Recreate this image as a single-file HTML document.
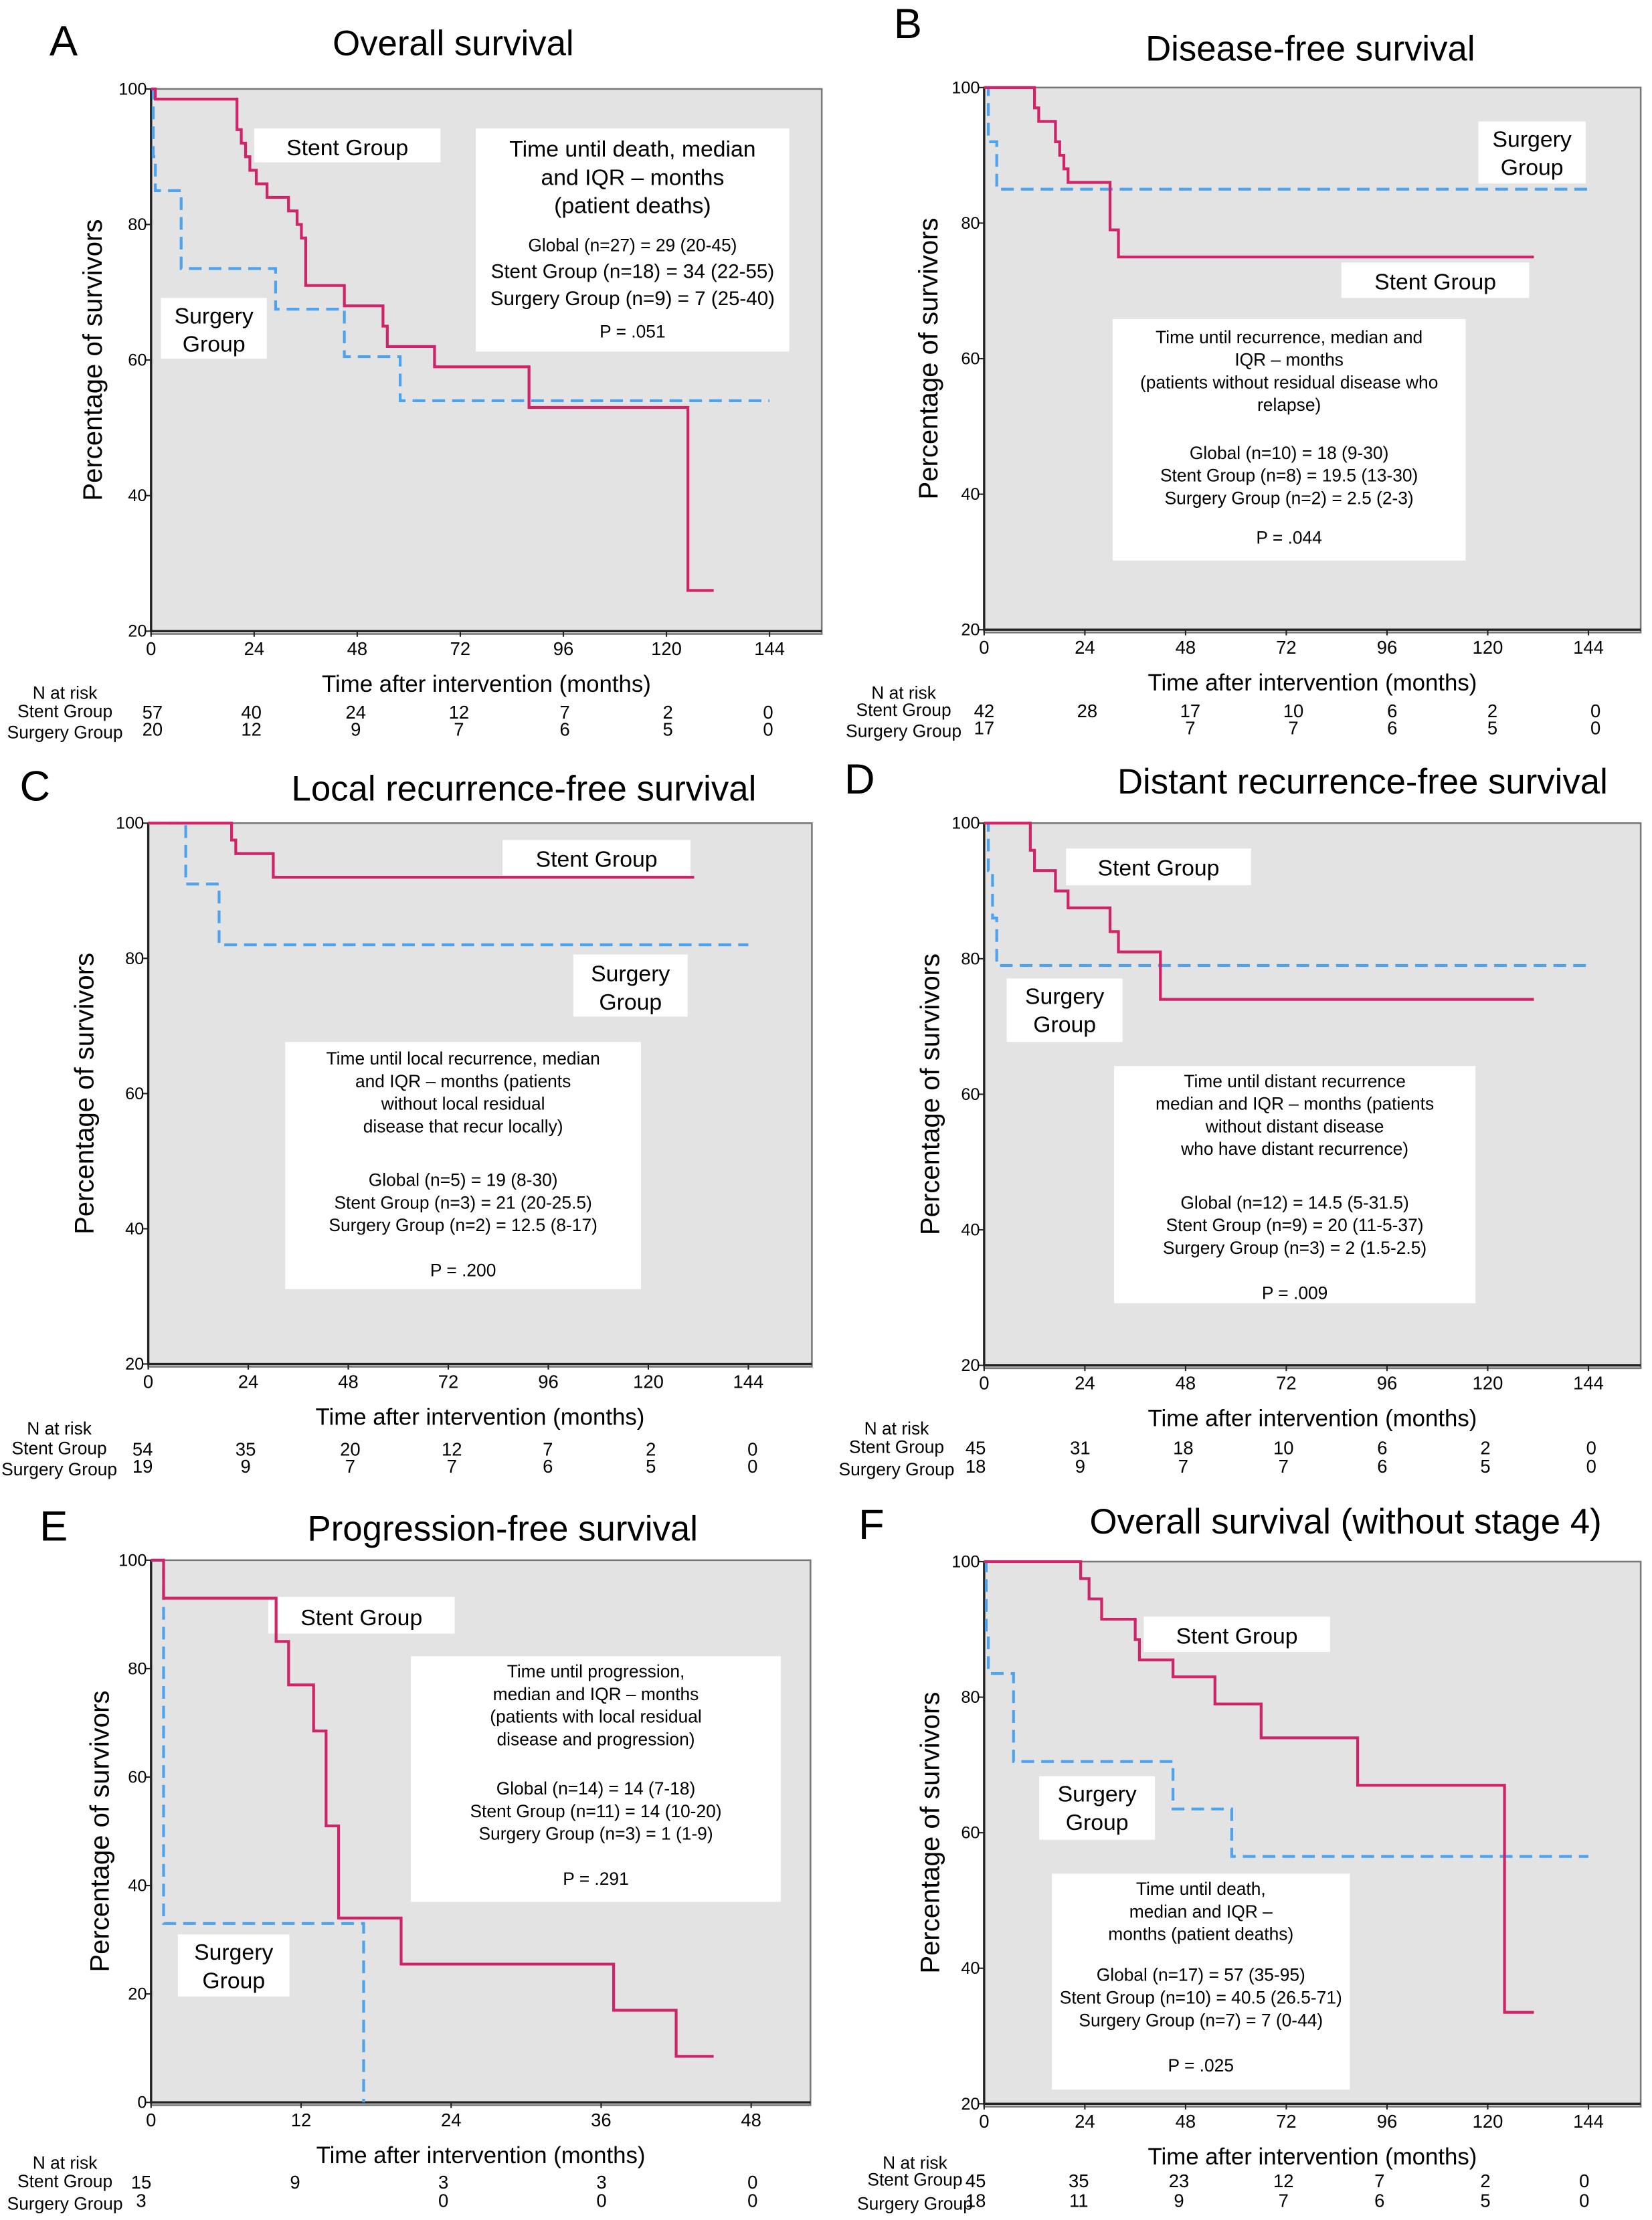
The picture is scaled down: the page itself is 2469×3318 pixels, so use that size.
<!DOCTYPE html>
<html><head><meta charset="utf-8">
<style>
html,body{margin:0;padding:0;background:#fff;}
svg{display:block;font-family:"Liberation Sans",Arial,sans-serif;}
</style></head>
<body>
<svg id="fig" width="2469" height="3318" viewBox="0 0 1170 1572.3" preserveAspectRatio="none" xmlns="http://www.w3.org/2000/svg"></svg>
<script>
// ---- Data: Panel A (Overall survival)
const aStentT=[0,1,20,21,22,23,24.5,27,32,34,35,36,45,54,55,66,88,125,131];
const aStentS=[100,98.5,94,92,90,88,86,84,82,80,78,71,68,65,62,59,53,26,26];
const aSurgT=[0,0.5,1,7,29,45,58,144];
const aSurgS=[100,90,85,73.5,67.5,60.5,54,54];
const aRiskStent=["57","40","24","12","7","2","0"];
const aRiskSurg=["20","12","9","7","6","5","0"];
// ---- Panel B (Disease-free survival)
const bStentT=[0,11,12,13,17,18,19,20,30,32,131];
const bStentS=[100,100,97,95,92,90,88,86,79,75,75];
const bSurgT=[0,1,3,144];
const bSurgS=[100,92,85,85];
const bRiskStent=["42","28","17","10","6","2","0"];
const bRiskSurg=["17","","7","7","6","5","0"];
// ---- Panel C (Local recurrence-free)
const cStentT=[0,19,20,21,30,131];
const cStentS=[100,100,97.5,95.5,92,92];
const cSurgT=[0,9,17,144];
const cSurgS=[100,91,82,82];
const cRiskStent=["54","35","20","12","7","2","0"];
const cRiskSurg=["19","9","7","7","6","5","0"];
// ---- Panel D (Distant recurrence-free)
const dStentT=[0,10,11,12,17,20,30,32,42,131];
const dStentS=[100,100,96,93,90,87.5,84,81,74,74];
const dSurgT=[0,1,2,3,144];
const dSurgS=[100,93,86,79,79];
const dRiskStent=["45","31","18","10","6","2","0"];
const dRiskSurg=["18","9","7","7","6","5","0"];
// ---- Panel E (Progression-free)
const eStentT=[0,1,9,10,11,13,14,15,20,37,42,45];
const eStentS=[100,93,93,85,77,68.5,51,34,25.5,17,8.5,8.5];
const eSurgT=[0,1,17,17];
const eSurgS=[100,33,33,0];
const eRiskStent=["15","9","3","3","0"];
const eRiskSurg=["3","","0","0","0"];
// ---- Panel F (Overall survival without stage 4)
const fStentT=[0,22,23,25,28,36,37,45,55,66,89,124,131];
const fStentS=[100,100,97.5,94.5,91.5,88.5,85.5,83,79,74,67,33.5,33.5];
const fSurgT=[0,0.5,1,7,45,59,144];
const fSurgS=[100,89,83.5,70.5,63.5,56.5,56.5];
const fRiskStent=["45","35","23","12","7","2","0"];
const fRiskSurg=["18","11","9","7","6","5","0"];

const NS="http://www.w3.org/2000/svg";
const svg=document.getElementById('fig');
function el(tag,attrs,parent,text){const e=document.createElementNS(NS,tag);for(const k in attrs)e.setAttribute(k,attrs[k]);if(text!==undefined)e.textContent=text;(parent||svg).appendChild(e);return e;}

function panel(p){
  const g=el('g',{},svg);
  
  
  const sx=t=>p.x0+(t-p.xmin)/(p.xmax-p.xmin)*(p.x1-p.x0);
  const sy=v=>p.yTop+(p.ymax-v)/(p.ymax-p.ymin)*(p.yBot-p.yTop);
  const bg=el('rect',{x:p.x0,y:p.yTop,width:p.boxR-p.x0,height:p.yBot-p.yTop+2,fill:'#e3e3e3',stroke:'#777','stroke-width':1.2},g);
  
  
  const ax=el('path',{d:`M${p.x0},${p.yTop}V${p.yBot}H${p.boxR}`,stroke:'#222','stroke-width':1.6,fill:'none'},g);
  
  
  const lt=el('text',{x:p.letterX,y:p.letterY,'font-size':30},g,p.id);
  
  
  const tt=el('text',{x:p.titleX,y:p.titleY,'font-size':25,'text-anchor':'middle'},g,p.title);
  
  
  p.yTicks.forEach(v=>{
    const y=sy(v);
    el('line',{x1:p.x0-4,x2:p.x0,y1:y,y2:y,stroke:'#222','stroke-width':1},g);
    const t=el('text',{x:p.x0-3,y:y+4,'font-size':12,'text-anchor':'end'},g,String(v));
    
    
  });
  p.xTicks.forEach(v=>{
    const x=sx(v);
    el('line',{x1:x,x2:x,y1:p.yBot,y2:p.yBot+4,stroke:'#222','stroke-width':1},g);
    const t=el('text',{x:x,y:p.yBot+17,'font-size':13,'text-anchor':'middle'},g,String(v));
    
    
  });
  const yl=el('text',{x:0,y:0,'font-size':19,'text-anchor':'middle',transform:`translate(${p.yLabX},${(p.yTop+p.yBot)/2}) rotate(-90)`},g,'Percentage of survivors');
  
  
  const xl=el('text',{x:(p.x0+p.boxR)/2,y:p.yBot+43,'font-size':16.5,'text-anchor':'middle'},g,'Time after intervention (months)');
  
  
  p.boxes.forEach(b=>{
    const bg2=el('g',{},g);
    
    
    el('rect',{x:b.x,y:b.y,width:b.w,height:b.h,fill:'#fff'},bg2);
    b.lines.forEach((ln,i)=>{
      el('text',{x:b.x+b.w/2,y:b.y+b.ty+i*b.lh+(ln.dy||0),'font-size':ln.fs||b.fs,'text-anchor':'middle'},bg2,ln.t);
    });
  });
  function step(T,S,color,dash,name){
    let d=`M${sx(T[0])},${sy(S[0])}`;
    for(let i=1;i<T.length;i++){d+=`H${sx(T[i])}V${sy(S[i])}`;}
    const c=el('path',{d:d,stroke:color,'stroke-width':2,fill:'none','stroke-dasharray':dash||'none'},g);
    
    
  }
  step(p.surgT,p.surgS,'#4da3ee','9,5','surgery-group-curve');
  step(p.stentT,p.stentS,'#d0246a',null,'stent-group-curve');
  const rg=el('g',{'font-size':12.5},g);
  
  
  el('text',{x:p.risk.lx,y:p.risk.y0,'text-anchor':'middle'},rg,'N at risk');
  el('text',{x:p.risk.lx,y:p.risk.y1,'text-anchor':'middle'},rg,'Stent Group');
  el('text',{x:p.risk.lx,y:p.risk.y2+2,'text-anchor':'middle'},rg,'Surgery Group');
  p.riskStent.forEach((v,i)=>{el('text',{x:p.risk.xs[i],y:p.risk.y1+1,'text-anchor':'middle','font-size':13},rg,v);});
  p.riskSurg.forEach((v,i)=>{el('text',{x:p.risk.xs[i],y:p.risk.y2,'text-anchor':'middle','font-size':13},rg,v);});
}

const T144=[0,24,48,72,96,120,144], Y20=[20,40,60,80,100];
panel({id:'A',title:'Overall survival',letterX:35,letterY:39,titleX:321,titleY:39,
  x0:107,x1:545,xmin:0,xmax:144,boxR:582,yTop:63,yBot:447,ymin:20,ymax:100,yLabX:72,
  xTicks:T144,yTicks:Y20,stentT:aStentT,stentS:aStentS,surgT:aSurgT,surgS:aSurgS,
  riskStent:aRiskStent,riskSurg:aRiskSurg,
  risk:{lx:46,y0:495,y1:508,y2:521,xs:[108,178,252,325,400,473,544]},
  boxes:[
    {name:'stent-group-label',x:180,y:91,w:132,h:24,ty:19,lh:0,fs:16,lines:[{t:'Stent Group'}]},
    {name:'surgery-group-label',x:114,y:211,w:75,h:43,ty:18,lh:20,fs:16,lines:[{t:'Surgery'},{t:'Group'}]},
    {name:'stats-box',x:337,y:91,w:222,h:158,ty:20,lh:20,fs:16,lines:[{t:'Time until death, median'},{t:'and IQR – months'},{t:'(patient deaths)'},{t:'Global (n=27) = 29 (20-45)',fs:12.5,dy:7},{t:'Stent Group (n=18) = 34 (22-55)',fs:14,dy:6},{t:'Surgery Group  (n=9) = 7 (25-40)',fs:14,dy:5},{t:'P = .051',fs:12.5,dy:8}]}
  ]});
panel({id:'B',title:'Disease-free survival',letterX:633,letterY:27,titleX:928,titleY:43,
  x0:697,x1:1125,xmin:0,xmax:144,boxR:1162,yTop:62,yBot:446,ymin:20,ymax:100,yLabX:664,
  xTicks:T144,yTicks:Y20,stentT:bStentT,stentS:bStentS,surgT:bSurgT,surgS:bSurgS,
  riskStent:bRiskStent,riskSurg:bRiskSurg,
  risk:{lx:640,y0:495,y1:507,y2:520,xs:[697,770,843,916,986,1057,1130]},
  boxes:[
    {name:'surgery-group-label',x:1047,y:86,w:76,h:44,ty:18,lh:20,fs:16,lines:[{t:'Surgery'},{t:'Group'}]},
    {name:'stent-group-label',x:950,y:186,w:133,h:25,ty:19,lh:0,fs:16,lines:[{t:'Stent Group'}]},
    {name:'stats-box',x:788,y:226,w:250,h:171,ty:17,lh:16,fs:12.5,lines:[{t:'Time until recurrence, median and'},{t:'IQR – months'},{t:'(patients without residual disease who'},{t:'relapse)'},{t:'Global (n=10) = 18 (9-30)',dy:18},{t:'Stent Group   (n=8) = 19.5 (13-30)',dy:18},{t:'Surgery Group  (n=2) = 2.5 (2-3)',dy:18},{t:'P = .044',dy:30}]}
  ]});
panel({id:'C',title:'Local recurrence-free survival',letterX:14,letterY:567,titleX:371,titleY:567,
  x0:105,x1:530,xmin:0,xmax:144,boxR:575,yTop:583,yBot:966,ymin:20,ymax:100,yLabX:66,
  xTicks:T144,yTicks:Y20,stentT:cStentT,stentS:cStentS,surgT:cSurgT,surgS:cSurgS,
  riskStent:cRiskStent,riskSurg:cRiskSurg,
  risk:{lx:42,y0:1016,y1:1030,y2:1043,xs:[101,174,248,320,388,461,533]},
  boxes:[
    {name:'stent-group-label',x:356,y:595,w:133,h:25,ty:19,lh:0,fs:16,lines:[{t:'Stent Group'}]},
    {name:'surgery-group-label',x:406,y:676,w:81,h:44,ty:19,lh:20,fs:16,lines:[{t:'Surgery'},{t:'Group'}]},
    {name:'stats-box',x:202,y:738,w:252,h:175,ty:16,lh:16,fs:12.5,lines:[{t:'Time until local recurrence, median'},{t:'and IQR – months (patients'},{t:'without local residual'},{t:'disease that recur locally)'},{t:'Global (n=5) = 19 (8-30)',dy:22},{t:'Stent Group (n=3) = 21 (20-25.5)',dy:22},{t:'Surgery Group  (n=2) = 12.5 (8-17)',dy:22},{t:'P = .200',dy:38}]}
  ]});
panel({id:'D',title:'Distant recurrence-free survival',letterX:598,letterY:562,titleX:965,titleY:562,
  x0:697,x1:1125,xmin:0,xmax:144,boxR:1162,yTop:583,yBot:967,ymin:20,ymax:100,yLabX:665,
  xTicks:T144,yTicks:Y20,stentT:dStentT,stentS:dStentS,surgT:dSurgT,surgS:dSurgS,
  riskStent:dRiskStent,riskSurg:dRiskSurg,
  risk:{lx:635,y0:1016,y1:1029,y2:1043,xs:[691,765,838,909,979,1052,1127]},
  boxes:[
    {name:'stent-group-label',x:755,y:601,w:131,h:26,ty:19,lh:0,fs:16,lines:[{t:'Stent Group'}]},
    {name:'surgery-group-label',x:713,y:693,w:82,h:45,ty:18,lh:20,fs:16,lines:[{t:'Surgery'},{t:'Group'}]},
    {name:'stats-box',x:789,y:755,w:256,h:168,ty:15,lh:16,fs:12.5,lines:[{t:'Time until distant recurrence'},{t:'median and IQR – months (patients'},{t:'without distant disease'},{t:'who have distant recurrence)'},{t:'Global (n=12) = 14.5 (5-31.5)',dy:22},{t:'Stent Group (n=9) = 20 (11-5-37)',dy:22},{t:'Surgery Group  (n=3) = 2 (1.5-2.5)',dy:22},{t:'P = .009',dy:38}]}
  ]});
panel({id:'E',title:'Progression-free survival',letterX:28,letterY:1091,titleX:356,titleY:1091,
  x0:107,x1:532,xmin:0,xmax:48,boxR:574,yTop:1105,yBot:1489,ymin:0,ymax:100,yLabX:77,
  xTicks:[0,12,24,36,48],yTicks:[0,20,40,60,80,100],stentT:eStentT,stentS:eStentS,surgT:eSurgT,surgS:eSurgS,
  riskStent:eRiskStent,riskSurg:eRiskSurg,
  risk:{lx:46,y0:1536,y1:1549,y2:1563,xs:[100,209,314,426,533]},
  boxes:[
    {name:'stent-group-label',x:190,y:1131,w:132,h:26,ty:20,lh:0,fs:16,lines:[{t:'Stent Group'}]},
    {name:'surgery-group-label',x:126,y:1370,w:79,h:44,ty:18,lh:20,fs:16,lines:[{t:'Surgery'},{t:'Group'}]},
    {name:'stats-box',x:291,y:1173,w:262,h:174,ty:15,lh:16,fs:12.5,lines:[{t:'Time until progression,'},{t:'median and IQR – months'},{t:'(patients with local residual'},{t:'disease and progression)'},{t:'Global (n=14) = 14 (7-18)',dy:19},{t:'Stent Group (n=11) = 14 (10-20)',dy:19},{t:'Surgery Group  (n=3) = 1 (1-9)',dy:19},{t:'P = .291',dy:35}]}
  ]});
panel({id:'F',title:'Overall survival (without stage 4)',letterX:608,letterY:1090,titleX:953,titleY:1086,
  x0:697,x1:1125,xmin:0,xmax:144,boxR:1162,yTop:1106,yBot:1490,ymin:20,ymax:100,yLabX:665,
  xTicks:T144,yTicks:Y20,stentT:fStentT,stentS:fStentS,surgT:fSurgT,surgS:fSurgS,
  riskStent:fRiskStent,riskSurg:fRiskSurg,
  risk:{lx:648,y0:1536,y1:1548,y2:1563,xs:[691,764,835,909,977,1052,1122]},
  boxes:[
    {name:'stent-group-label',x:810,y:1145,w:132,h:25,ty:19,lh:0,fs:16,lines:[{t:'Stent Group'}]},
    {name:'surgery-group-label',x:736,y:1258,w:82,h:45,ty:18,lh:20,fs:16,lines:[{t:'Surgery'},{t:'Group'}]},
    {name:'stats-box',x:745,y:1327,w:211,h:153,ty:15,lh:16,fs:12.5,lines:[{t:'Time until death,'},{t:'median and IQR –'},{t:'months (patient deaths)'},{t:'Global (n=17) = 57 (35-95)',dy:13},{t:'Stent Group (n=10) = 40.5 (26.5-71)',dy:13},{t:'Surgery Group  (n=7) = 7 (0-44)',dy:13},{t:'P = .025',dy:29}]}
  ]});
</script>
</body></html>
